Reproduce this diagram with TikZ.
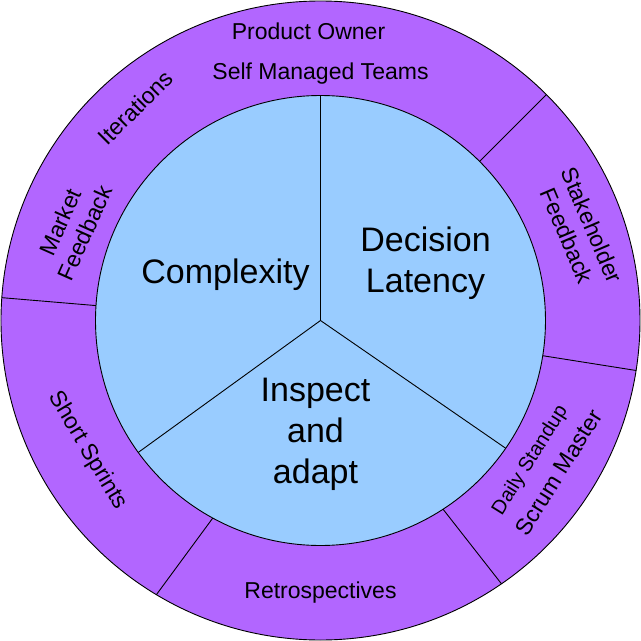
\documentclass[tikz,border=0pt]{standalone}
\usepackage{fontspec}
\setmainfont{Liberation Sans}
\usepackage{tikz}

\definecolor{ringpurple}{HTML}{B266FF}
\definecolor{coreblue}{HTML}{99CCFF}
\newcommand{\ringfont}{\fontsize{23}{27}\selectfont}
\newcommand{\smallringfont}{\fontsize{20}{24}\selectfont}
\newcommand{\corefont}{\fontsize{34}{41}\selectfont}
\tikzset{
  ringtext/.style={font=\ringfont, align=center, inner sep=0pt},
  coretext/.style={font=\corefont, align=center, inner sep=0pt},
  divider/.style={draw=black, line width=0.9pt}
}

\begin{document}
\begin{tikzpicture}[x=1pt, y=1pt]
	\useasboundingbox (-320.5,-320.5) rectangle (320.5,320.5);
	\coordinate (hub) at (0,0);
	\draw[divider, fill=ringpurple] (hub) circle (319.5);
	\draw[divider, fill=coreblue] (hub) circle (225);
	
	\draw[divider] (hub) -- (90:225);
	\draw[divider] (hub) -- (215.9:225);
	\draw[divider] (hub) -- (325.4:225);
	
	\draw[divider] (45:225) -- (45:319.5);
	\draw[divider] (-9:225) -- (-9:319.5);
	\draw[divider] (-57:225) -- (-55.5:319.5);
	\draw[divider] (241.4:225) -- (239.1:319.5);
	\draw[divider] (176.2:225) -- (175.9:319.5);
	
	\node[ringtext, anchor=base] (owner) at (-12,281) {Product Owner};
	\node[ringtext, anchor=base] (teams) at (0,241) {Self Managed Teams};
	\node[ringtext, rotate=45] (iter) at (-185,213) {Iterations};
	\node[ringtext, rotate=66] (market) at (-248,93) {Market\\Feedback};
	\node[ringtext, rotate=-67] (stake) at (259,90) {Stakeholder\\Feedback};
	\node[ringtext, font=\smallringfont, rotate=58] (standup) at (210,-140) {Daily Standup};
	\node[ringtext, rotate=58] (scrum) at (238,-152) {Scrum Master};
	\node[ringtext, rotate=-59] (sprints) at (-233,-130) {Short Sprints};
	\node[ringtext, anchor=base] (retro) at (0,-278) {Retrospectives};
	
	\node[coretext, anchor=base] (complex) at (-95,37) {Complexity};
	\node[coretext] (latency) at (105,57) {Decision\\Latency};
	\node[coretext] (inspect) at (-5,-114) {Inspect\\and\\adapt};
\end{tikzpicture}
\end{document}
